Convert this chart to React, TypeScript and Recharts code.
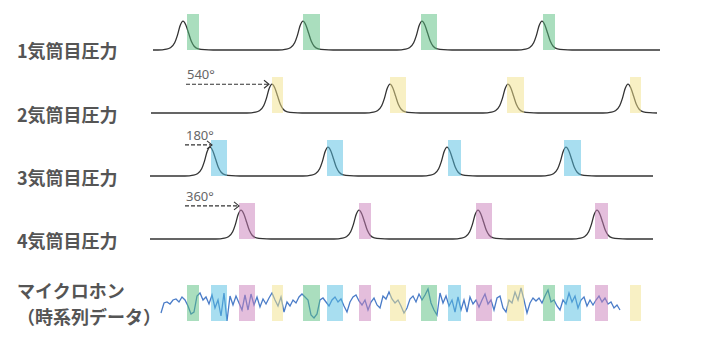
import { ComposedChart, Line, XAxis, YAxis, ReferenceArea } from "recharts";

// crank angle in degrees, cylinder 1 TDC = 0
const angleDomain: [number, number] = [-1098, 3138];

const cylinderLabels = ["1気筒目圧力", "2気筒目圧力", "3気筒目圧力", "4気筒目圧力"];
const micLabel = ["マイクロホン", "（時系列データ）"];

const cyl1Peaks = [0, 720, 1434, 2154];
const cyl2Peaks = [534, 1242, 1950, 2670];
const cyl3Peaks = [162, 870, 1584, 2298];
const cyl4Peaks = [348, 1056, 1770, 2484];

const cyl1Windows = [[24, 96], [720, 822], [1428, 1524], [2160, 2232]];
const cyl2Windows = [[534, 600], [1242, 1338], [1944, 2046], [2682, 2748]];
const cyl3Windows = [[168, 264], [864, 960], [1590, 1668], [2286, 2388]];
const cyl4Windows = [[336, 432], [1056, 1128], [1758, 1854], [2472, 2550]];

const traceRanges = [[-180, 2862], [-192, 2844], [-198, 2820], [-198, 2820]];

// combustion pressure shape around TDC: [angle offset, relative pressure]
const peakProfile = [
  [-150, 0], [-100, 0.03], [-76, 0.08], [-50, 0.25], [-34, 0.5], [-17, 0.85], [0, 1],
  [17, 0.87], [34, 0.58], [50, 0.3], [67, 0.13], [92, 0.04], [130, 0.01], [180, 0],
];

const phaseTexts = ["", "540°", "180°", "360°"];
const phaseArrows = [null, [18, 516], [12, 174], [12, 336]];
const phaseArrowLevels = [0, 1.0, 1.08, 1.15];

const windowColors = ["#55bd7d", "#f1e189", "#51bde1", "#c97db9"];

const micStart = -132;
const micStep = 18;
const micSamples = [
  -10, 0, 1, -1, 3, 4, 1, 6, 3, -3, -11, -9, 7, 10, 3, 6, -1, 8, -5, 3,
  -13, 10, -18, 7, -2, 7, 0, -7, 8, -7, 9, -2, 6, -4, 4, -1, 5, 10, 3, -3,
  6, -9, 1, -3, 3, 0, 6, 9, 6, 3, -12, -15, -11, 3, 5, 1, -3, 3, 6, 1,
  4, -3, -9, 1, 6, 8, 2, -2, 3, -7, 1, 5, -2, -5, 7, 4, 11, 4, 0, 3,
  -3, -10, -5, 4, 7, 1, 9, 3, 8, 14, 0, -7, -12, 10, 0, 7, -3, 3, -9, 6,
  -7, 3, -9, 6, -1, 3, -4, 3, 9, -1, 3, -7, 5, 7, -5, -9, 3, 0, 11, 3,
  15, 3, -10, 0, 5, 2, 5, 0, 7, 13, 1, 3, -3, -7, 3, -1, 10, 1, 7, -5,
  3, 6, -3, 3, -2, 3, 7, 1, 5, -1, 1, -5, -2, -7,
];

const rows = [
  { top: 14, peaks: cyl1Peaks, windows: cyl1Windows },
  { top: 77, peaks: cyl2Peaks, windows: cyl2Windows },
  { top: 140, peaks: cyl3Peaks, windows: cyl3Windows },
  { top: 203, peaks: cyl4Peaks, windows: cyl4Windows },
];
const labelCenters = [50, 114, 177, 240];

const buildTrace = (peaks: number[], range: number[]) => {
  const pts = [{ x: range[0], p: 0 }];
  peaks.forEach((pk) => peakProfile.forEach(([dx, v]) => pts.push({ x: pk + dx, p: v })));
  pts.push({ x: range[1], p: 0 });
  return pts.filter((p) => p.x >= range[0] && p.x <= range[1]).sort((a, b) => a.x - b.x);
};

const micData = micSamples.map((v, i) => ({ x: micStart + i * micStep, m: v }));

const allWindows = rows.flatMap((r, i) => r.windows.map((w) => ({ w, color: windowColors[i] })));

const labelStyle: React.CSSProperties = {
  position: "absolute",
  left: 17,
  lineHeight: "20px",
  fontFamily: "'Noto Sans CJK JP', sans-serif",
  fontWeight: 700,
  fontSize: 18,
  color: "#555",
  whiteSpace: "nowrap",
};

const PLOT_H = 36;
const MARGIN_TOP = 24;

const CylinderRow = ({ idx }: { idx: number }) => {
  const row = rows[idx];
  const trace = buildTrace(row.peaks, traceRanges[idx]);
  const arrow = phaseArrows[idx];
  const arrowData = arrow
    ? [{ x: arrow[0], a: phaseArrowLevels[idx] }, { x: arrow[1], a: phaseArrowLevels[idx] }]
    : [];
  const renderArrowDot = (props: any) => {
    const { cx, cy, index } = props;
    if (index === 0) {
      return (
        <text key="t" x={cx + 1} y={cy - 5} fontSize={13} fill="#666" fontFamily="'Noto Sans', sans-serif">
          {phaseTexts[idx]}
        </text>
      );
    }
    return (
      <path key="h" d={`M${cx - 5},${cy - 4} L${cx},${cy} L${cx - 5},${cy + 4}`} fill="none" stroke="#333" strokeWidth={1.1} />
    );
  };
  return (
    <div style={{ position: "absolute", left: 0, top: row.top - MARGIN_TOP }}>
      <ComposedChart width={706} height={PLOT_H + MARGIN_TOP + 4} margin={{ top: MARGIN_TOP, right: 0, bottom: 4, left: 0 }}>
        <XAxis type="number" dataKey="x" domain={angleDomain} hide />
        <YAxis type="number" domain={[0, 1.25]} hide />
        <Line data={trace} dataKey="p" type="monotone" stroke="#333" strokeWidth={1.3} dot={false} isAnimationActive={false} />
        {arrow && (
          <Line data={arrowData} dataKey="a" stroke="#333" strokeWidth={1.1} strokeDasharray="4 2" dot={renderArrowDot} isAnimationActive={false} />
        )}
        {row.windows.map(([a, b], i) => (
          <ReferenceArea key={i} x1={a} x2={b} y1={0} y2={1.25} fill={windowColors[idx]} fillOpacity={0.5} stroke="none" zIndex={500} />
        ))}
      </ComposedChart>
    </div>
  );
};

const App = () => (
  <div style={{ position: "absolute", left: 0, top: 0, width: 706, height: 351, background: "#fff" }}>
    {cylinderLabels.map((t, i) => (
      <div key={t} style={{ ...labelStyle, top: labelCenters[i] - 10 }}>{t}</div>
    ))}
    <div style={{ ...labelStyle, top: 277, lineHeight: "26px" }}>
      {micLabel[0]}
      <br />
      {micLabel[1]}
    </div>
    {rows.map((_, i) => (
      <CylinderRow key={i} idx={i} />
    ))}
    <div style={{ position: "absolute", left: 0, top: 285 }}>
      <ComposedChart width={706} height={36} margin={{ top: 0, right: 0, bottom: 0, left: 0 }}>
        <XAxis type="number" dataKey="x" domain={angleDomain} hide />
        <YAxis type="number" domain={[-18, 18]} hide />
        <Line data={micData} dataKey="m" type="linear" stroke="#4a7cc8" strokeWidth={1.3} dot={false} isAnimationActive={false} />
        {allWindows.map(({ w, color }, i) => (
          <ReferenceArea key={i} x1={w[0]} x2={w[1]} y1={-18} y2={18} fill={color} fillOpacity={0.5} stroke="none" zIndex={500} />
        ))}
      </ComposedChart>
    </div>
  </div>
);

export default App;
